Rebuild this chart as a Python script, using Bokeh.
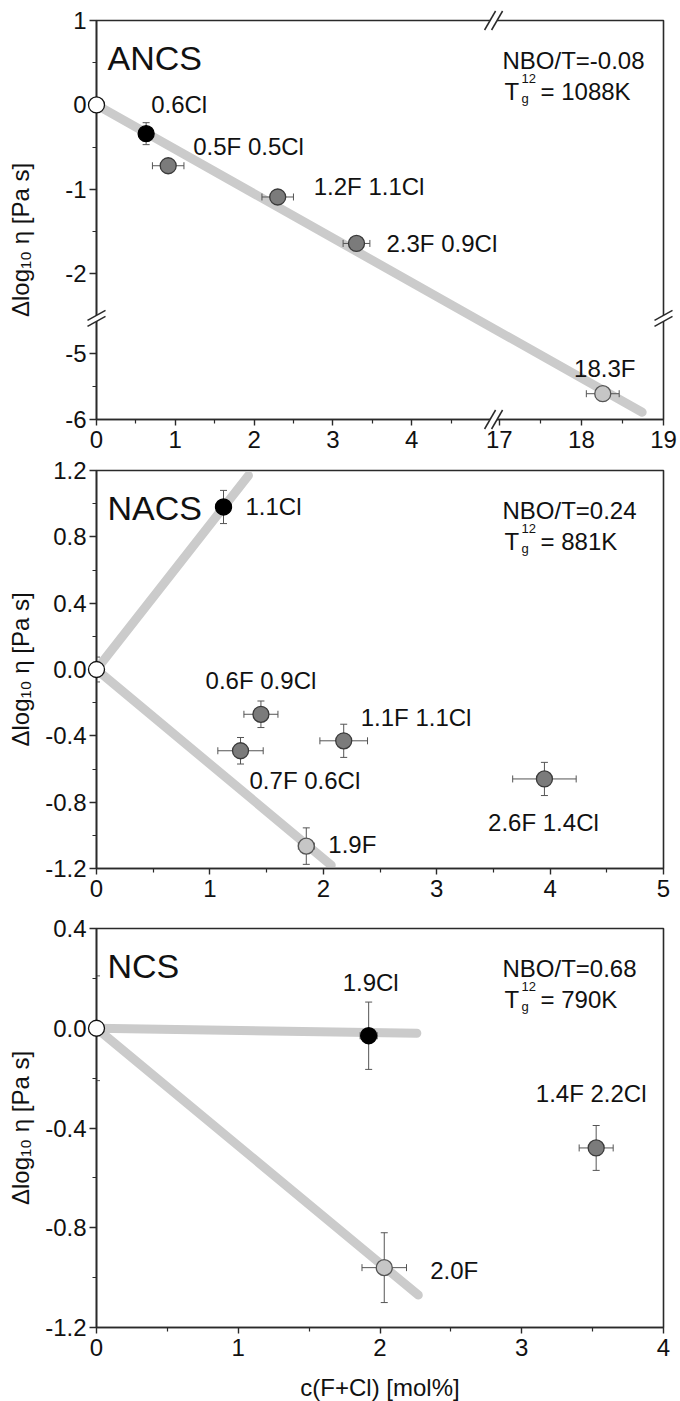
import numpy as np
from bokeh.plotting import figure
from bokeh.models import Range1d, FixedTicker, ColumnDataSource, Whisker, TeeHead
from bokeh.layouts import column
from bokeh.embed import file_html
from bokeh.resources import INLINE
from bokeh.core.properties import value

FONT = "Liberation Sans"
AX = "#2a2a2a"
FIT = "#cbcbcb"
ERR = "#555555"
TXT = "#111111"
FILL = {"ref": "#ffffff", "Cl": "#000000", "FCl": "#7b7b7b", "F": "#c6c6c6"}
EDGE = {"ref": "#111111", "Cl": "#000000", "FCl": "#3a3a3a", "F": "#555555"}

# ---------------- data: ANCS ----------------
ancs_x = [0.0, 0.63, 0.91, 2.30, 3.30, 18.26]
ancs_y = [0.0, -0.34, -0.72, -1.09, -1.64, -5.61]
ancs_xerr = [0.0, 0.03, 0.20, 0.20, 0.17, 0.20]
ancs_yerr = [0.0, 0.13, 0.0, 0.0, 0.0, 0.0]
ancs_kind = ["ref", "Cl", "FCl", "FCl", "FCl", "F"]
ancs_labels = ["", "0.6Cl", "0.5F 0.5Cl", "1.2F 1.1Cl", "2.3F 0.9Cl", "18.3F"]
ancs_fit_x = [[0.0, 18.74]]
ancs_fit_y = [[0.0, -5.89]]
ancs_xticks = [0, 1, 2, 3, 4, 17, 18, 19]
ancs_xminor = [0.5, 1.5, 2.5, 3.5, 4.5, 17.5, 18.5]
ancs_yticks = [1, 0, -1, -2, -5, -6]
ancs_yminor = [0.5, -0.5, -1.5, -5.5]
ancs_nbo = "NBO/T=-0.08"
ancs_tg = "= 1088K"

# ---------------- data: NACS ----------------
nacs_x = [0.0, 1.12, 1.45, 1.27, 2.18, 3.95, 1.85]
nacs_y = [0.0, 0.98, -0.27, -0.49, -0.43, -0.66, -1.065]
nacs_xerr = [0.0, 0.0, 0.15, 0.20, 0.21, 0.28, 0.07]
nacs_yerr = [0.075, 0.10, 0.08, 0.08, 0.10, 0.10, 0.11]
nacs_kind = ["ref", "Cl", "FCl", "FCl", "FCl", "FCl", "F"]
nacs_labels = ["", "1.1Cl", "0.6F 0.9Cl", "0.7F 0.6Cl", "1.1F 1.1Cl", "2.6F 1.4Cl", "1.9F"]
nacs_fit_x = [[0.0, 1.34], [0.0, 2.07]]
nacs_fit_y = [[0.0, 1.17], [0.0, -1.18]]
nacs_xticks = [0, 1, 2, 3, 4, 5]
nacs_yticks = [-1.2, -0.8, -0.4, 0.0, 0.4, 0.8, 1.2]
nacs_ytick_labels = ["-1.2", "-0.8", "-0.4", "0.0", "0.4", "0.8", "1.2"]
nacs_nbo = "NBO/T=0.24"
nacs_tg = "= 881K"

# ---------------- data: NCS ----------------
ncs_x = [0.0, 1.92, 3.525, 2.03]
ncs_y = [0.0, -0.03, -0.48, -0.96]
ncs_xerr = [0.0, 0.06, 0.12, 0.157]
ncs_yerr = [0.21, 0.135, 0.09, 0.14]
ncs_kind = ["ref", "Cl", "FCl", "F"]
ncs_labels = ["", "1.9Cl", "1.4F 2.2Cl", "2.0F"]
ncs_fit_x = [[0.0, 2.26], [0.0, 2.27]]
ncs_fit_y = [[0.0, -0.02], [0.0, -1.07]]
ncs_xticks = [0, 1, 2, 3, 4]
ncs_yticks = [-1.2, -0.8, -0.4, 0.0, 0.4]
ncs_ytick_labels = ["-1.2", "-0.8", "-0.4", "0.0", "0.4"]
ncs_nbo = "NBO/T=0.68"
ncs_tg = "= 790K"

# label placement (screen px offsets from the point, alignment)
ancs_lab = [None, (5, -29, "left"), (25, -19, "left"), (36, -10, "left"), (30, 0, "left"), (2, -25, "center")]
nacs_lab = [None, (22, 0, "left"), (0, -34, "center"), (9, 30, "left"), (17, -23, "left"),
            (-1, 44, "center"), (22, -2, "left")]
ncs_lab = [None, (2, -53, "center"), (-5, -54, "center"), (46, 3, "left")]

YLABEL = "\u0394log\u2081\u2080 \u03b7 [Pa s]"

# ---------------- broken-axis scale for ANCS ----------------
XB_LO, XB_HI, XR = 5.04, 16.93, 82.0 / 78.7
YB_HI, YB_LO, YR = -2.527, -4.47, 66.0 / 84.3


def ancs_tx(v):
    v = np.asarray(v, dtype=float)
    return np.where(v <= 10, v, XB_LO + (v - XB_HI) * XR)


def ancs_ty(v):
    v = np.asarray(v, dtype=float)
    return np.where(v >= -3.5, v, YB_HI + (v - YB_LO) * YR)


def ident(v):
    return np.asarray(v, dtype=float)


def r6(a):
    return [round(float(t), 6) for t in np.atleast_1d(a)]


FRAME_W = 567


def build(xs, ys, xerr, yerr, kinds, labels, lab, fits_x, fits_y, xr, yr,
          xt, xminor, xlab, yt, yminor, ylab, frame_h, top, bottom,
          name, nbo, tg, tx, ty, ylabel, ylabel_standoff, xlabel=None):
    p = figure(frame_width=FRAME_W, frame_height=frame_h,
               x_range=Range1d(*xr), y_range=Range1d(*yr),
               output_backend="svg", toolbar_location=None,
               min_border_left=96, min_border_right=17,
               min_border_top=top, min_border_bottom=bottom,
               background_fill_color="white", border_fill_color="white")
    p.grid.visible = False
    p.outline_line_color = AX
    p.outline_line_width = 1.6
    p.outline_line_alpha = 1.0

    xtv = r6(tx(xt))
    ytv = r6(ty(yt))
    p.xaxis.ticker = FixedTicker(ticks=xtv, minor_ticks=r6(tx(xminor)))
    p.yaxis.ticker = FixedTicker(ticks=ytv, minor_ticks=r6(ty(yminor)))
    p.xaxis.major_label_overrides = dict(zip(xtv, xlab))
    p.yaxis.major_label_overrides = dict(zip(ytv, ylab))
    for ax in (p.xaxis[0], p.yaxis[0]):
        ax.axis_line_color = AX
        ax.axis_line_width = 1.6
        ax.major_tick_line_color = AX
        ax.minor_tick_line_color = AX
        ax.major_tick_line_width = 1.4
        ax.minor_tick_line_width = 1.2
        ax.major_tick_in = 0
        ax.minor_tick_in = 0
        ax.minor_tick_out = 4
        ax.major_label_text_font = FONT
        ax.major_label_text_font_size = "24px"
        ax.major_label_text_color = TXT
        ax.axis_label_text_font = FONT
        ax.axis_label_text_font_size = "24px"
        ax.axis_label_text_font_style = "normal"
        ax.axis_label_text_color = TXT
    p.xaxis.major_tick_out = 6
    p.xaxis.major_label_standoff = 5
    p.yaxis.major_tick_out = 7
    p.yaxis.major_label_standoff = 3
    p.yaxis.axis_label = ylabel
    p.yaxis.axis_label_standoff = ylabel_standoff
    if xlabel:
        p.xaxis.axis_label = xlabel
        p.xaxis.axis_label_standoff = 15

    # guide lines
    for fx, fy in zip(fits_x, fits_y):
        p.line(tx(fx), ty(fy), line_color=FIT, line_width=9, line_cap="round")

    # error bars
    vb, vl, vu, hb, hl, hu = [], [], [], [], [], []
    for x, y, ex, ey in zip(xs, ys, xerr, yerr):
        if ey > 0:
            vb.append(float(tx(x))); vl.append(float(ty(y - ey))); vu.append(float(ty(y + ey)))
        if ex > 0:
            hb.append(float(ty(y))); hl.append(float(tx(x - ex))); hu.append(float(tx(x + ex)))
    if vb:
        p.add_layout(Whisker(source=ColumnDataSource(dict(b=vb, l=vl, u=vu)), base="b", lower="l", upper="u",
                             dimension="height", line_color=ERR, line_width=1, level="glyph",
                             upper_head=TeeHead(size=7, line_color=ERR, line_width=1),
                             lower_head=TeeHead(size=7, line_color=ERR, line_width=1)))
    if hb:
        p.add_layout(Whisker(source=ColumnDataSource(dict(b=hb, l=hl, u=hu)), base="b", lower="l", upper="u",
                             dimension="width", line_color=ERR, line_width=1, level="glyph",
                             upper_head=TeeHead(size=7, line_color=ERR, line_width=1),
                             lower_head=TeeHead(size=7, line_color=ERR, line_width=1)))

    # points
    src = ColumnDataSource(dict(x=tx(xs), y=ty(ys),
                                fc=[FILL[k] for k in kinds], lc=[EDGE[k] for k in kinds]))
    p.scatter("x", "y", source=src, size=16, fill_color="fc", line_color="lc",
              line_width=1.3, level="overlay")

    # point labels
    for x, y, t, l in zip(xs, ys, labels, lab):
        if not t:
            continue
        dx, dy, al = l
        p.text(x=[float(tx(x))], y=[float(ty(y))], text=[t], x_offset=dx, y_offset=dy,
               text_font=value(FONT), text_font_size="24px", text_color=TXT,
               text_align=al, text_baseline="middle")

    # corner texts (frame top-left anchor)
    x0, y1 = xr[0], yr[1]

    def corner(t, dx, dy, size):
        p.text(x=[x0], y=[y1], text=[t], x_offset=dx, y_offset=dy, text_font=value(FONT),
               text_font_size=size, text_color=TXT, text_align="left", text_baseline="alphabetic")

    corner(name, 11, 37, "34px")
    corner(nbo, 406, 40, "24px")
    corner("T", 408, 71, "24px")
    corner("12", 425, 58, "13px")
    corner("g", 425, 78, "13px")
    corner(tg, 444, 71, "24px")
    return p


def breaks(p, xr, yr, frame_h, bx, by):
    xppu = FRAME_W / (xr[1] - xr[0])
    yppu = frame_h / (yr[1] - yr[0])
    segs = dict(x0=[], y0=[], x1=[], y1=[])
    pxs, pys = [], []

    def mark(ax, ay, centers, half):
        hx, hy = half
        pts = []
        for cx, cy in centers:
            a = (ax + (cx - hx) / xppu, ay - (cy - hy) / yppu)
            b = (ax + (cx + hx) / xppu, ay - (cy + hy) / yppu)
            segs["x0"].append(a[0]); segs["y0"].append(a[1])
            segs["x1"].append(b[0]); segs["y1"].append(b[1])
            pts.append((a, b))
        (a1, b1), (a2, b2) = pts
        pxs.append([a1[0], b1[0], b2[0], a2[0]])
        pys.append([a1[1], b1[1], b2[1], a2[1]])

    for ay in (yr[0], yr[1]):
        mark(bx, ay, [(-3.5, 0), (3.5, 0)], (5.5, -9.5))
    for ax in (xr[0], xr[1]):
        mark(ax, by, [(0, -3), (0, 3)], (9, -5))
    p.patches(pxs, pys, fill_color="white", line_color=None, level="overlay")
    p.segment(source=ColumnDataSource(segs), x0="x0", y0="y0", x1="x1", y1="y1",
              line_color=AX, line_width=1.5, level="overlay")


# ---- panel 1 (broken axes)
xr1 = (0.0, r6(ancs_tx(19))[0])
yr1 = (r6(ancs_ty(-6))[0], 1.0)
p1 = build(ancs_x, ancs_y, ancs_xerr, ancs_yerr, ancs_kind, ancs_labels, ancs_lab,
           ancs_fit_x, ancs_fit_y, xr1, yr1,
           ancs_xticks, ancs_xminor, [str(v) for v in ancs_xticks],
           ancs_yticks, ancs_yminor, [str(v) for v in ancs_yticks],
           399, 20, 39, "ANCS", ancs_nbo, ancs_tg, ancs_tx, ancs_ty,
           YLABEL + "\u00a0" * 6 + "\u200b", 28)
breaks(p1, xr1, yr1, 399, XB_LO, YB_HI)

# ---- panel 2
p2 = build(nacs_x, nacs_y, nacs_xerr, nacs_yerr, nacs_kind, nacs_labels, nacs_lab,
           nacs_fit_x, nacs_fit_y, (0, 5), (-1.2, 1.2),
           nacs_xticks, [v + 0.5 for v in nacs_xticks[:-1]], [str(v) for v in nacs_xticks],
           nacs_yticks, [-1.0, -0.6, -0.2, 0.2, 0.6, 1.0], nacs_ytick_labels,
           398, 12, 45, "NACS", nacs_nbo, nacs_tg, ident, ident, YLABEL, 8)

# ---- panel 3
p3 = build(ncs_x, ncs_y, ncs_xerr, ncs_yerr, ncs_kind, ncs_labels, ncs_lab,
           ncs_fit_x, ncs_fit_y, (0, 4), (-1.2, 0.4),
           ncs_xticks, [v + 0.5 for v in ncs_xticks[:-1]], [str(v) for v in ncs_xticks],
           ncs_yticks, [-1.0, -0.6, -0.2, 0.2], ncs_ytick_labels,
           399, 15, 73, "NCS", ncs_nbo, ncs_tg, ident, ident, YLABEL, 8,
           xlabel="c(F+Cl) [mol%]")

layout = column(p1, p2, p3, spacing=0)
open("out.html", "w").write(file_html(layout, INLINE))
